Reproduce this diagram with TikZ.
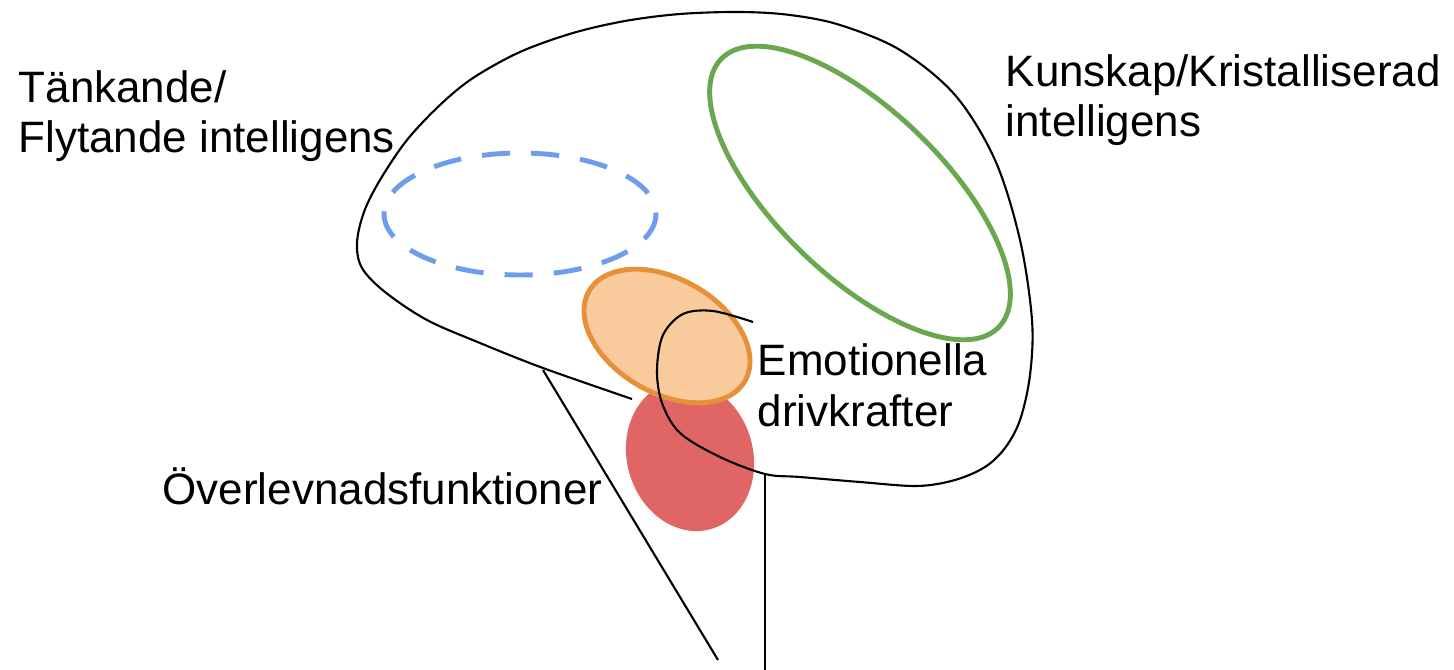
\documentclass[tikz,border=0pt]{standalone}
\usepackage{fontspec}
\setmainfont{Liberation Sans}
\usepackage{tikz}

\definecolor{fluidblue}{HTML}{6D9EEB}
\definecolor{crystgreen}{HTML}{6AA84F}
\definecolor{emofill}{HTML}{F9CB9C}
\definecolor{emoline}{HTML}{E69138}
\definecolor{survred}{HTML}{E06666}

\tikzset{
  brainlabel/.style={font=\fontsize{12.5}{14.5}\selectfont, inner sep=0pt, align=left, anchor=base west},
  brainline/.style={line width=0.6pt, black},
}

\begin{document}
\begin{tikzpicture}[x=0.01cm, y=-0.01cm]
    \useasboundingbox (0,0) rectangle (1454,670);

    % Regions
    \draw[fluidblue, line width=1.4pt, dash pattern=on 8pt off 6pt] (520,214) ellipse [x radius=136, y radius=61]; % dashed, front
    \draw[crystgreen, line width=1.4pt, rotate around={-44:(860,193)}] (860,193) ellipse [x radius=193, y radius=83]; % top right
    \fill[survred, rotate around={16:(690,456)}] (690,456) ellipse [x radius=63, y radius=76]; % brain stem
    \draw[emoline, fill=emofill, line width=1.4pt, rotate around={-30:(667,336)}] (667,336) ellipse [x radius=90, y radius=57]; % middle

    % Outline, ending in the hook
    \draw[brainline] plot[smooth, tension=0.55] coordinates {
        (632,399) (543,368) (480,343) (427,320) (385,292) (362,268) (357,243)
        (364,212) (380,180) (407,140) (440,105) (473,78) (520,52) (573,33)
        (625,21) (680,14) (740,12) (790,15) (840,25) (900,50) (955,95)
        (995,160) (1020,240) (1032,320) (1030,375) (1020,420) (1005,448)
        (985,467) (955,480) (917,486) (860,482) (800,477) (765,474)
        (720,457) (680,433) (662,403) (657,370) (663,335) (683,314)
        (713,311) (753,322)};

    % Stem
    \coordinate (stemL) at (543,370);
    \coordinate (stemLend) at (718,660);
    \coordinate (stemR) at (765,474);
    \coordinate (stemRend) at (765,670);
    \draw[brainline] (stemL) -- (stemLend);
    \draw[brainline] (stemR) -- (stemRend);

    % Labels (anchored on the last baseline)
    \node[brainlabel] (flytande) at (18,153) {Tänkande/\\Flytande intelligens};
    \node[brainlabel] (kristall) at (1005,137) {Kunskap/Kristalliserad\\intelligens};
    \node[brainlabel] (emotion) at (757,426) {Emotionella\\drivkrafter};
    \node[brainlabel] (overlev) at (162,504) {Överlevnadsfunktioner};
\end{tikzpicture}
\end{document}
